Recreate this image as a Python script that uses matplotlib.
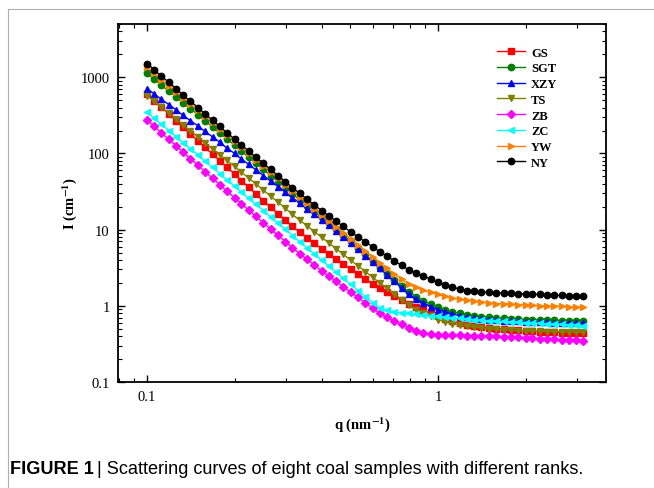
import matplotlib
matplotlib.use("Agg")
import matplotlib.pyplot as plt
from matplotlib.lines import Line2D
from matplotlib.ticker import LogLocator, FuncFormatter, NullFormatter

# q grid (nm^-1)
q = [0.1, 0.106, 0.112, 0.119, 0.126, 0.133, 0.141, 0.15, 0.158, 0.168,
     0.178, 0.188, 0.2, 0.211, 0.224, 0.237, 0.251, 0.266, 0.282, 0.299,
     0.316, 0.335, 0.355, 0.376, 0.398, 0.422, 0.447, 0.473, 0.501, 0.531,
     0.562, 0.596, 0.631, 0.668, 0.708, 0.75, 0.794, 0.841, 0.891, 0.944,
     1.0, 1.06, 1.12, 1.19, 1.26, 1.33, 1.41, 1.5, 1.58, 1.68,
     1.78, 1.88, 2.0, 2.11, 2.24, 2.37, 2.51, 2.66, 2.82, 2.99, 3.16]

GS = [603, 493, 403, 329, 269, 220, 180, 147, 120, 98.3,
      80.4, 65.7, 53.7, 43.9, 35.9, 29.3, 24.0, 19.7, 16.2, 13.3,
      11.0, 9.28, 7.85, 6.64, 5.62, 4.81, 4.12, 3.53, 3.02, 2.62,
      2.26, 1.96, 1.70, 1.51, 1.35, 1.20, 1.07, 0.966, 0.871, 0.794,
      0.724, 0.668, 0.624, 0.589, 0.562, 0.543, 0.527, 0.513, 0.501, 0.492,
      0.484, 0.475, 0.468, 0.462, 0.457, 0.452, 0.447, 0.444, 0.442, 0.439, 0.437]

SGT = [1122, 939, 785, 657, 550, 460, 385, 322, 269, 224,
       186, 155, 129, 107, 89.1, 74.1, 61.7, 51.3, 42.7, 35.5,
       29.5, 24.7, 20.7, 17.3, 14.5, 12.1, 10.1, 8.46, 7.08, 5.79,
       4.73, 3.87, 3.16, 2.63, 2.19, 1.82, 1.51, 1.32, 1.17, 1.05,
       0.955, 0.891, 0.832, 0.794, 0.759, 0.738, 0.721, 0.705, 0.692, 0.684,
       0.676, 0.668, 0.661, 0.656, 0.653, 0.649, 0.646, 0.641, 0.638, 0.634, 0.631]

XZY = [708, 603, 513, 437, 372, 316, 269, 229, 195, 165,
       140, 118, 100, 84.6, 71.6, 60.6, 51.3, 43.4, 36.7, 31.1,
       26.3, 22.3, 18.8, 15.9, 13.5, 11.4, 9.55, 8.04, 6.76, 5.56,
       4.57, 3.76, 3.09, 2.54, 2.09, 1.72, 1.41, 1.23, 1.08, 0.977,
       0.891, 0.832, 0.776, 0.741, 0.708, 0.692, 0.676, 0.661, 0.646, 0.638,
       0.631, 0.624, 0.617, 0.612, 0.610, 0.605, 0.603, 0.598, 0.596, 0.592, 0.589]

TS = [575, 481, 403, 337, 282, 236, 197, 165, 138, 115,
      96.6, 80.8, 67.6, 56.6, 47.3, 39.6, 33.1, 27.5, 22.9, 19.1,
      15.8, 13.3, 11.2, 9.44, 7.94, 6.68, 5.62, 4.73, 3.98, 3.35,
      2.82, 2.37, 2.00, 1.69, 1.43, 1.21, 1.02, 0.891, 0.794, 0.724,
      0.661, 0.617, 0.582, 0.556, 0.537, 0.525, 0.513, 0.501, 0.490, 0.484,
      0.479, 0.473, 0.468, 0.465, 0.462, 0.459, 0.457, 0.454, 0.452, 0.449, 0.447]

ZB = [275, 226, 186, 153, 126, 104, 85.1, 70.0, 57.5, 47.3,
      38.9, 32.0, 26.3, 21.8, 18.0, 14.9, 12.3, 10.2, 8.41, 6.96,
      5.75, 4.84, 4.07, 3.43, 2.88, 2.45, 2.09, 1.78, 1.51, 1.29,
      1.10, 0.933, 0.794, 0.708, 0.631, 0.569, 0.513, 0.468, 0.437, 0.422,
      0.417, 0.414, 0.412, 0.410, 0.407, 0.405, 0.403, 0.400, 0.398, 0.394,
      0.389, 0.385, 0.380, 0.376, 0.372, 0.367, 0.363, 0.359, 0.355, 0.351, 0.347]

ZC = [347, 288, 240, 200, 166, 138, 115, 95.5, 79.4, 65.7,
      54.3, 44.9, 37.2, 30.9, 25.7, 21.4, 17.8, 14.7, 12.2, 10.1,
      8.32, 6.92, 5.75, 4.79, 3.98, 3.31, 2.75, 2.29, 1.91, 1.58,
      1.32, 1.10, 0.933, 0.881, 0.841, 0.813, 0.794, 0.776, 0.759, 0.741,
      0.724, 0.711, 0.697, 0.682, 0.668, 0.659, 0.649, 0.640, 0.631, 0.624,
      0.617, 0.610, 0.603, 0.596, 0.589, 0.582, 0.575, 0.569, 0.562, 0.556, 0.550]

YW = [1349, 1122, 933, 776, 646, 537, 447, 372, 309, 256,
      211, 175, 145, 120, 100, 83.2, 69.2, 57.2, 47.3, 39.1,
      32.4, 26.9, 22.4, 18.6, 15.5, 13.0, 10.8, 9.07, 7.59, 6.31,
      5.25, 4.37, 3.63, 3.09, 2.63, 2.24, 1.91, 1.74, 1.60, 1.50,
      1.41, 1.33, 1.27, 1.22, 1.18, 1.14, 1.12, 1.09, 1.07, 1.06,
      1.05, 1.04, 1.02, 1.01, 1.00, 0.998, 0.989, 0.98, 0.97, 0.964, 0.955]

NY = [1514, 1252, 1035, 856, 708, 586, 484, 400, 331, 274,
      226, 187, 155, 129, 107, 89.1, 74.1, 61.7, 51.3, 42.7,
      35.5, 29.9, 25.1, 21.1, 17.8, 15.1, 12.9, 11.0, 9.33, 8.04,
      6.92, 5.96, 5.13, 4.47, 3.89, 3.39, 2.95, 2.69, 2.45, 2.24,
      2.04, 1.88, 1.76, 1.66, 1.58, 1.55, 1.52, 1.50, 1.48, 1.47,
      1.46, 1.44, 1.43, 1.42, 1.41, 1.39, 1.38, 1.37, 1.36, 1.35, 1.33]

names = ["GS", "SGT", "XZY", "TS", "ZB", "ZC", "YW", "NY"]
series = [GS, SGT, XZY, TS, ZB, ZC, YW, NY]
colors = ["#ff0000", "#008000", "#0000ff", "#808000", "#ff00ff", "#00ffff", "#ff8000", "#000000"]
markers = ["s", "o", "^", "v", "D", "<", ">", "o"]

serif = ["Liberation Serif", "DejaVu Serif"]
plt.rcParams['font.family'] = serif
plt.rcParams['mathtext.fontset'] = 'stix'

fig = plt.figure(figsize=(6.54, 4.89), dpi=100)
ax = fig.add_axes([118/654, 1-383/489, (606-118)/654, (383-25)/489])

for name, y, c, m in zip(names, series, colors, markers):
    ms = 4.0 if m == "D" else 4.6
    ax.plot(q, y, color=c, marker=m, ms=ms, lw=1.0, mec=c, mfc=c, label=name)

ax.set_xscale('log')
ax.set_yscale('log')
ax.set_xlim(0.0795, 3.78)
ax.set_ylim(0.1, 5000)

fmt = FuncFormatter(lambda v, p: ('%g' % v))
ax.xaxis.set_major_locator(LogLocator(base=10, numticks=10))
ax.yaxis.set_major_locator(LogLocator(base=10, numticks=10))
ax.xaxis.set_major_formatter(fmt)
ax.yaxis.set_major_formatter(fmt)
ax.xaxis.set_minor_formatter(NullFormatter())
ax.yaxis.set_minor_formatter(NullFormatter())
ax.tick_params(which='both', direction='in', top=True, right=True, labelsize=10.5)
ax.tick_params(which='major', length=5, width=1.0, pad=6)
ax.tick_params(which='minor', length=2.8, width=0.8)
for s in ax.spines.values():
    s.set_linewidth(1.3)

ax.set_xlabel('q (nm$^{\\mathbf{-1}}$)', fontsize=10.5, fontweight='bold', labelpad=8)
ax.set_ylabel('I (cm$^{\\mathbf{-1}}$)', fontsize=10.5, fontweight='bold', labelpad=1)

leg = ax.legend(loc='upper left', bbox_to_anchor=(0.777, 0.937), frameon=False,
                prop={'family': serif, 'weight': 'bold', 'size': 9},
                handlelength=2.25, handletextpad=0.45, labelspacing=0.3,
                borderpad=0, borderaxespad=0, numpoints=1)

# frame lines of the figure panel
fig.add_artist(Line2D([8/654, 1.0], [1-10/489, 1-10/489], color='#b0b0b0', lw=0.8))
fig.add_artist(Line2D([8/654, 8/654], [0, 1-10/489], color='#b0b0b0', lw=0.8))

# caption
cap_font = ['Liberation Sans Narrow', 'Liberation Sans']
t1 = fig.text(10/654, 1-470/489, 'FIGURE 1', fontsize=13.1, fontweight='bold',
              family=cap_font, va='center', ha='left')
fig.canvas.draw()
bb = t1.get_window_extent(fig.canvas.get_renderer())
x2 = (bb.x1 + 3) / fig.bbox.width
fig.text(x2, 1-470/489, '| Scattering curves of eight coal samples with different ranks.',
         fontsize=13.1, family=cap_font, va='center', ha='left')

fig.savefig('out.png', dpi=100)
